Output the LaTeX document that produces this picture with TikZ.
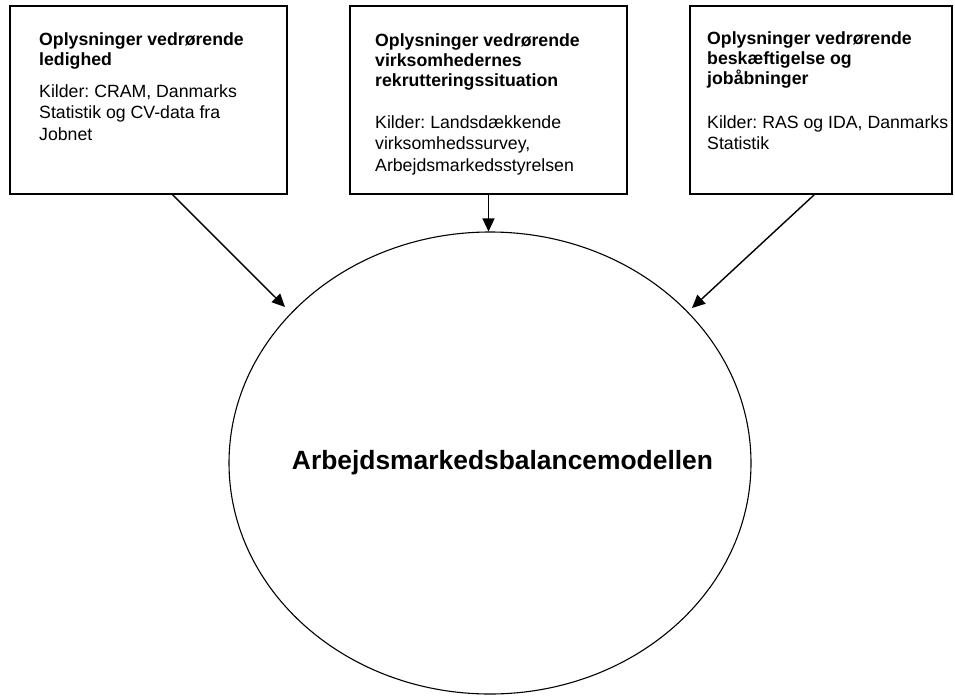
\documentclass[tikz,border=0pt]{standalone}
\usepackage{fontspec}
\setmainfont{Liberation Sans}
\frenchspacing
\usetikzlibrary{arrows.meta,shapes.geometric}
\begin{document}
\begin{tikzpicture}[x=1pt,y=-1pt,
  box/.style={draw,line width=1.1pt,inner sep=0pt},
  hd/.style={anchor=base west,inner sep=0pt,font=\fontsize{17.7}{20}\selectfont\bfseries},
  tx/.style={anchor=base west,inner sep=0pt,font=\fontsize{17.7}{20}\selectfont},
  arr/.style={line width=1.4pt,-{Triangle[length=13pt,width=12pt]}}]
\useasboundingbox[fill=white] (0,0) rectangle (955,696);
% boxes
\node[box,minimum width=277pt,minimum height=188pt] (lbox) at (148.5,100) {};
\node[box,minimum width=277pt,minimum height=188pt] (mbox) at (488.5,100) {};
\node[box,minimum width=262pt,minimum height=188pt] (rbox) at (821,100) {};
% left text
\node[hd] (l1) at (39,45) {Oplysninger vedrørende};
\node[hd] (l2) at (39,65) {ledighed};
\node[tx] (l3) at (39,97) {Kilder: CRAM, Danmarks};
\node[tx] (l4) at (39,118.5) {Statistik og CV-data fra};
\node[tx] (l5) at (39,140) {Jobnet};
% middle text
\node[hd] (m1) at (375,46) {Oplysninger vedrørende};
\node[hd] (m2) at (375,66) {virksomhedernes};
\node[hd] (m3) at (375,86) {rekrutteringssituation};
\node[tx] (m4) at (375,128) {Kilder: Landsdækkende};
\node[tx] (m5) at (375,149.5) {virksomhedssurvey,};
\node[tx] (m6) at (375,171) {Arbejdsmarkedsstyrelsen};
% right text
\node[hd] (r1) at (707,44) {Oplysninger vedrørende};
\node[hd] (r2) at (707,64) {beskæftigelse og};
\node[hd] (r3) at (707,84) {jobåbninger};
\node[tx] (r4) at (707,128) {Kilder: RAS og IDA, Danmarks};
\node[tx] (r5) at (707,149) {Statistik};
% ellipse
\node[ellipse,draw,line width=1.1pt,minimum width=522pt,minimum height=462pt,inner sep=0pt] (ell) at (490,463) {};
\node[anchor=base,inner sep=0pt,font=\fontsize{26.4}{30}\selectfont\bfseries] (title) at (502.5,469) {Arbejdsmarkedsbalancemodellen};
% arrows
\coordinate (ltip) at (285,307);
\coordinate (rtip) at (692,308);
\draw[arr] ([xshift=163pt]lbox.south west) -- (ltip);
\draw[arr] (mbox.south) -- (mbox.south |- ell.north);
\draw[arr] ([xshift=125pt]rbox.south west) -- (rtip);
\end{tikzpicture}
\end{document}
